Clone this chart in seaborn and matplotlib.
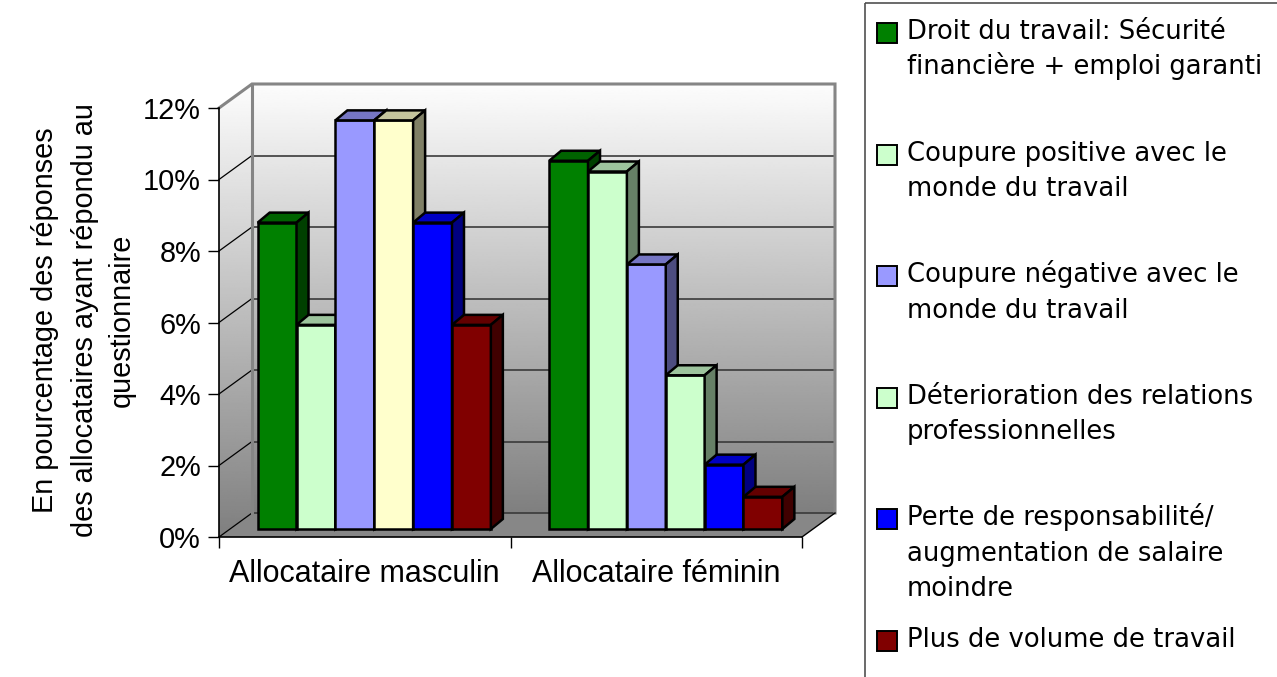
import numpy as np
import matplotlib
matplotlib.use("Agg")
import matplotlib.pyplot as plt
import seaborn as sns
import pandas as pd
from matplotlib.patches import Polygon, Rectangle
from matplotlib.transforms import ScaledTranslation, IdentityTransform
from matplotlib.ticker import PercentFormatter, FixedLocator

# --- données (en % des réponses) ---
groupes = ["Allocataire masculin", "Allocataire féminin"]
series = [
    "Droit du travail: Sécurité\nfinancière + emploi garanti",
    "Coupure positive avec le\nmonde du travail",
    "Coupure négative avec le\nmonde du travail",
    "Déterioration des relations\nprofessionnelles",
    "Perte de responsabilité/\naugmentation de salaire\nmoindre",
    "Plus de volume de travail",
]
masculin = [8.57, 5.71, 11.43, 11.43, 8.57, 5.71]
feminin = [10.3, 10.0, 7.4, 4.3, 1.8, 0.9]
yticks = [0, 2, 4, 6, 8, 10, 12]
ylabel = "En pourcentage des réponses\ndes allocataires ayant répondu au\nquestionnaire"

# --- styles ---
couleurs = ["#008000", "#CCFFCC", "#9999FF", "#CCFFCC", "#0000FF", "#800000"]
jaune = "#FFFFCC"  # barre "Déterioration" du groupe masculin, recoloree dans Excel

W, H = 1277, 677
BAR_OFF = np.array([9.5, 8.0])    # decalage des barres (px)
BAR_DEPTH = np.array([12.0, 10.0])
BACK = np.array([33.0, 24.0])     # profondeur des murs (px)

plt.rcParams["font.family"] = ["Liberation Sans", "DejaVu Sans"]
FS = 20.8

df = pd.DataFrame({
    "groupe": [g for g in groupes for _ in series],
    "serie": series * 2,
    "valeur": masculin + feminin,
})

fig = plt.figure(figsize=(W / 100, H / 100), dpi=100)
fig.patch.set_facecolor("white")

# axes = plan avant du graphique 3D
ax = fig.add_axes([219 / W, 1 - 537 / H, (802 - 219) / W, (537 - 108) / H])
ax.set_facecolor("none")
ax.set_zorder(2)
bg = fig.add_axes([0, 0, 1, 1])
bg.set_zorder(1)
bg.axis("off")

sns.barplot(data=df, x="groupe", y="valeur", hue="serie", order=groupes,
            hue_order=series, palette=dict(zip(series, couleurs)),
            saturation=1, width=0.8, errorbar=None, edgecolor="black",
            linewidth=1.8, legend=False, ax=ax)
ax.set_xlim(-0.5, 1.5)
ax.set_ylim(0, 12)
ax.set_xlabel("")
ax.set_ylabel("")


def to_px(x, v):
    d = ax.transData.transform((x, v))
    return np.array([d[0], H - d[1]])  # pixels, y vers le bas


def shade(c, f):
    r, g, b, a = matplotlib.colors.to_rgba(c)
    return (r * f, g * f, b * f, 1)


# --- barres 3D ---
off = ScaledTranslation(BAR_OFF[0] / 100, BAR_OFF[1] / 100, fig.dpi_scale_trans)
for k, cont in enumerate(ax.containers):
    for bar in cont:
        if k == 3 and bar.get_x() + bar.get_width() / 2 < 0.5:
            bar.set_facecolor(jaune)
        bar.set_transform(ax.transData + off)
        bar.set_zorder(3 + k * 0.1)
        x0, w, h = bar.get_x(), bar.get_width(), bar.get_height()
        p = ax.transData.transform([(x0, 0), (x0 + w, 0), (x0 + w, h), (x0, h)]) + BAR_OFF
        bl, br, tr, tl = p
        fc = bar.get_facecolor()
        top = Polygon([tl, tr, tr + BAR_DEPTH, tl + BAR_DEPTH], closed=True,
                      transform=IdentityTransform(), facecolor=shade(fc, 0.77),
                      edgecolor="black", lw=1.8, zorder=3 + k * 0.1 + 0.05, clip_on=False)
        side = Polygon([br, br + BAR_DEPTH, tr + BAR_DEPTH, tr], closed=True,
                       transform=IdentityTransform(), facecolor=shade(fc, 0.5),
                       edgecolor="black", lw=1.8, zorder=3 + k * 0.1 + 0.05, clip_on=False)
        ax.add_patch(top)
        ax.add_patch(side)

# --- murs et sol (pixels) ---
bo = np.array([BACK[0], -BACK[1]])
f00 = to_px(-0.5, 0)
f10 = to_px(1.5, 0)
f012 = to_px(-0.5, 12)
b00, b10, b012 = f00 + bo, f10 + bo, f012 + bo
b112 = to_px(1.5, 12) + bo

grad = np.linspace(0.99, 0.5, 256).reshape(-1, 1)
bg.imshow(grad, extent=[b00[0], b10[0], b00[1], b012[1]], cmap="gray",
          vmin=0, vmax=1, aspect="auto", zorder=0, interpolation="bilinear")
lw_poly = Polygon([f012, b012, b00, f00], closed=True, facecolor="none", edgecolor="none")
bg.add_patch(lw_poly)
im = bg.imshow(grad, extent=[f00[0], b00[0], f00[1], b012[1]], cmap="gray",
               vmin=0, vmax=1, aspect="auto", zorder=0, interpolation="bilinear")
im.set_clip_path(lw_poly)
bg.add_patch(Polygon([f00, f10, b10, b00], closed=True, facecolor="#878787",
                     edgecolor="none", zorder=0.5))

for v in yticks:
    fp = to_px(-0.5, v)
    bp = fp + bo
    if v < 12:
        bg.plot([bp[0], b10[0]], [bp[1], bp[1]], color="#3a3a3a", lw=1.2, zorder=1)
        bg.plot([fp[0], bp[0]], [fp[1], bp[1]], color="black", lw=0.9, zorder=1)

gris = "#858585"
bg.plot([f012[0], b012[0], b112[0], b112[0]], [f012[1], b012[1], b112[1], b10[1]],
        color=gris, lw=2.2, zorder=1.2, solid_joinstyle="miter")
bg.plot([b00[0], b012[0]], [b00[1], b012[1]], color=gris, lw=2.2, zorder=1.2)
bg.plot([f10[0], b10[0]], [f10[1], b10[1]], color="black", lw=1.0, zorder=1.2)

# --- axes ---
for s in ["top", "right"]:
    ax.spines[s].set_visible(False)
for s in ["left", "bottom"]:
    ax.spines[s].set_linewidth(1.2)
    ax.spines[s].set_color("black")
ax.set_yticks(yticks)
ax.yaxis.set_major_formatter(PercentFormatter(decimals=0))
ax.tick_params(axis="y", length=8, width=1.0, pad=5, labelsize=FS)
ax.set_xticks([0, 1], groupes)
ax.xaxis.set_minor_locator(FixedLocator([-0.5, 0.5, 1.5]))
ax.tick_params(axis="x", which="major", length=0, pad=16, labelsize=22)
ax.tick_params(axis="x", which="minor", length=8, width=1.0)

for i, ligne in enumerate(ylabel.split("\n")):
    bg.text([45, 85, 122][i], 320, ligne, rotation=90, ha="center", va="center",
            fontsize=FS)

# --- légende ---
bg.add_patch(Rectangle((865, 3), 500, 700, fill=False, edgecolor="#505050",
                       lw=1.2, zorder=2))
for i, (nom, c) in enumerate(zip(series, couleurs)):
    yc = 33 + 121.6 * i
    bg.add_patch(Rectangle((877, yc - 10), 20, 20, facecolor=c, edgecolor="black",
                           lw=1.4, zorder=2))
    for j, ligne in enumerate(nom.split("\n")):
        bg.text(907, yc + 6 + 35.5 * j, ligne, fontsize=18.6, family="DejaVu Sans",
                va="baseline", ha="left", zorder=3)

bg.set_xlim(0, W)
bg.set_ylim(H, 0)

fig.savefig("out.png", dpi=100)
